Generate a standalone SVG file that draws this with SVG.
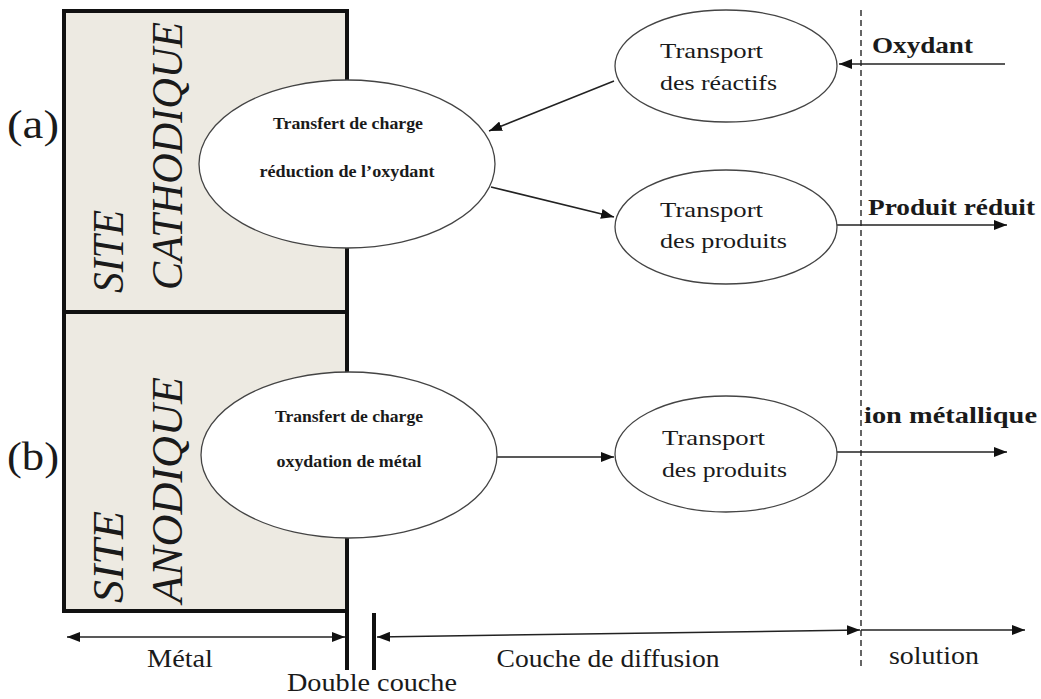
<svg xmlns="http://www.w3.org/2000/svg" width="1041" height="699" viewBox="0 0 1041 699">
<style>
.serif{font-family:"Liberation Serif","Times New Roman",serif;fill:#1a1a1a}
.bold{font-weight:bold}
.it{font-style:italic}
.ell{fill:#fff;stroke:#444;stroke-width:1.3}
.conn{stroke:#222;stroke-width:1.5;fill:none}
.thick{stroke:#111;stroke-width:4;fill:none}
</style>
<defs>
<marker id="ah" markerUnits="userSpaceOnUse" markerWidth="14" markerHeight="10" refX="13" refY="5" orient="auto-start-reverse">
<path d="M0,0 L13,5 L0,10 z" fill="#111"/>
</marker>
</defs>
<rect width="1041" height="699" fill="#fff"/>

<g id="metal-box">
<rect x="64" y="11" width="283" height="600" fill="#edeae2" stroke="#111" stroke-width="4"/>
<line x1="64" y1="312" x2="347" y2="312" class="thick"/>
<line x1="347" y1="609" x2="347" y2="670" class="thick"/>
<line x1="374" y1="613" x2="374" y2="670" class="thick"/>
</g>

<g id="site-cathodique">
<text class="serif it" font-size="45" transform="translate(123,293) rotate(-90)" textLength="83" lengthAdjust="spacingAndGlyphs">SITE</text>
<text class="serif it" font-size="45" transform="translate(182,290) rotate(-90)" textLength="268" lengthAdjust="spacingAndGlyphs">CATHODIQUE</text>
</g>
<g id="site-anodique">
<text class="serif it" font-size="45" transform="translate(123,603) rotate(-90)" textLength="92" lengthAdjust="spacingAndGlyphs">SITE</text>
<text class="serif it" font-size="45" transform="translate(182,603) rotate(-90)" textLength="226" lengthAdjust="spacingAndGlyphs">ANODIQUE</text>
</g>

<g id="label-a"><text class="serif" font-size="40" x="7" y="138" textLength="52" lengthAdjust="spacingAndGlyphs">(a)</text></g>
<g id="label-b"><text class="serif" font-size="40" x="7" y="470" textLength="52" lengthAdjust="spacingAndGlyphs">(b)</text></g>

<g id="connectors">
<line x1="861" y1="10" x2="861" y2="668" stroke="#333" stroke-width="1.5" stroke-dasharray="6,4"/>
<line x1="1005" y1="64" x2="839" y2="64" class="conn" marker-end="url(#ah)"/>
<line x1="614" y1="81" x2="489" y2="131" class="conn" marker-end="url(#ah)"/>
<line x1="491" y1="187" x2="614" y2="217" class="conn" marker-end="url(#ah)"/>
<line x1="837" y1="225" x2="1007" y2="225" class="conn" marker-end="url(#ah)"/>
<line x1="497" y1="457" x2="614" y2="457" class="conn" marker-end="url(#ah)"/>
<line x1="837" y1="452" x2="1007" y2="452" class="conn" marker-end="url(#ah)"/>
<line x1="67" y1="637" x2="345" y2="637" class="conn" marker-start="url(#ah)" marker-end="url(#ah)"/>
<line x1="377" y1="637" x2="860" y2="630" class="conn" marker-start="url(#ah)" marker-end="url(#ah)"/>
<line x1="861" y1="630" x2="1025" y2="630" class="conn" marker-end="url(#ah)"/>
</g>

<g id="transfert-reduction">
<ellipse cx="347" cy="164" rx="148" ry="84" class="ell"/>
<text class="serif bold" font-size="17" x="348" y="129" text-anchor="middle" textLength="150" lengthAdjust="spacingAndGlyphs">Transfert de charge</text>
<text class="serif bold" font-size="17" x="347" y="177" text-anchor="middle" textLength="175" lengthAdjust="spacingAndGlyphs">réduction de l’oxydant</text>
</g>

<g id="transfert-oxydation">
<ellipse cx="349" cy="455" rx="148" ry="83" class="ell"/>
<text class="serif bold" font-size="17" x="349" y="422" text-anchor="middle" textLength="148" lengthAdjust="spacingAndGlyphs">Transfert de charge</text>
<text class="serif bold" font-size="17" x="349" y="467" text-anchor="middle" textLength="145" lengthAdjust="spacingAndGlyphs">oxydation de métal</text>
</g>

<g id="transport-reactifs">
<ellipse cx="726" cy="66" rx="111" ry="56" class="ell"/>
<text class="serif" font-size="22" x="660" y="58" textLength="103" lengthAdjust="spacingAndGlyphs">Transport</text>
<text class="serif" font-size="22" x="660" y="90" textLength="117" lengthAdjust="spacingAndGlyphs">des réactifs</text>
</g>

<g id="transport-produits-a">
<ellipse cx="726" cy="227" rx="111" ry="57" class="ell"/>
<text class="serif" font-size="22" x="660" y="217" textLength="103" lengthAdjust="spacingAndGlyphs">Transport</text>
<text class="serif" font-size="22" x="660" y="248" textLength="127" lengthAdjust="spacingAndGlyphs">des produits</text>
</g>

<g id="transport-produits-b">
<ellipse cx="726" cy="454" rx="111" ry="58" class="ell"/>
<text class="serif" font-size="22" x="662" y="445" textLength="103" lengthAdjust="spacingAndGlyphs">Transport</text>
<text class="serif" font-size="22" x="662" y="477" textLength="125" lengthAdjust="spacingAndGlyphs">des produits</text>
</g>

<g id="label-oxydant"><text class="serif bold" font-size="23" x="872" y="53" textLength="101" lengthAdjust="spacingAndGlyphs">Oxydant</text></g>
<g id="label-produit-reduit"><text class="serif bold" font-size="23" x="868" y="215" textLength="167" lengthAdjust="spacingAndGlyphs">Produit réduit</text></g>
<g id="label-ion"><text class="serif bold" font-size="23" x="864" y="423" textLength="173" lengthAdjust="spacingAndGlyphs">ion métallique</text></g>

<g id="label-metal"><text class="serif" font-size="25" x="180" y="667" text-anchor="middle" textLength="66" lengthAdjust="spacingAndGlyphs">Métal</text></g>
<g id="label-diffusion"><text class="serif" font-size="25" x="608" y="667" text-anchor="middle" textLength="223" lengthAdjust="spacingAndGlyphs">Couche de diffusion</text></g>
<g id="label-solution"><text class="serif" font-size="25" x="934" y="664" text-anchor="middle" textLength="90" lengthAdjust="spacingAndGlyphs">solution</text></g>
<g id="label-double"><text class="serif" font-size="25" x="372" y="691" text-anchor="middle" textLength="170" lengthAdjust="spacingAndGlyphs">Double couche</text></g>
</svg>
